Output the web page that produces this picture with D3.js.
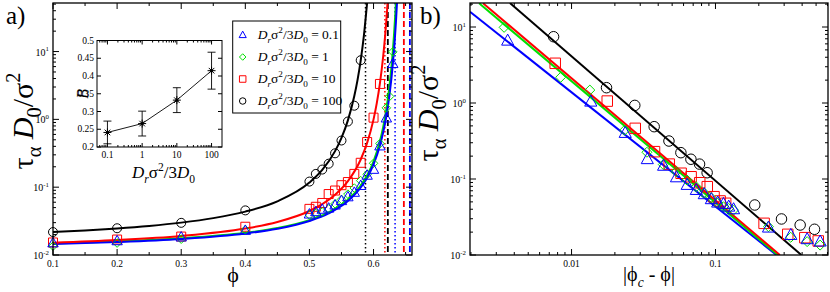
<!DOCTYPE html>
<html><head><meta charset="utf-8">
<script src="https://cdn.jsdelivr.net/npm/d3@7"></script>
<style>
body{margin:0;background:#fff;}
text, tspan{font-family:"Liberation Serif","DejaVu Serif","Times New Roman",serif;}
text{fill:#000;}
</style></head><body>
<svg id="c" width="830" height="292" font-family="Liberation Serif, DejaVu Serif, serif"></svg>
<script>
// ---------------- DATA ----------------
const seriesLabels = ["0.1", "1", "10", "100"];           // D_r sigma^2 / 3D_0
// measured relaxation times (panel a points)
const phiBlue  = [0.1,0.2,0.3,0.4,0.50,0.51,0.52,0.53,0.54,0.55,0.56,0.57,0.58,0.59,0.60,0.61,0.62,0.63];
const tauBlue  = [0.0150,0.0161,0.0183,0.0229,0.0399,0.0432,0.0469,0.0488,0.0541,0.0629,0.0716,0.0834,0.105,0.149,0.182,0.403,1.04,6.6];
const phiGreen = [0.1,0.2,0.3,0.4,0.50,0.51,0.52,0.53,0.54,0.55,0.56,0.57,0.58,0.59,0.60,0.61,0.62,0.625,0.63];
const tauGreen = [0.0135,0.0150,0.0171,0.0236,0.0390,0.0410,0.0432,0.0479,0.0568,0.066,0.079,0.097,0.125,0.155,0.225,0.44,1.48,2.18,9.9];
const phiRed   = [0.1,0.2,0.3,0.4,0.50,0.51,0.52,0.53,0.54,0.55,0.56,0.57,0.58,0.59,0.60,0.61];
const tauRed   = [0.0153,0.0169,0.0187,0.0261,0.0479,0.0514,0.0585,0.0792,0.0893,0.107,0.119,0.157,0.229,0.464,1.06,3.33];
const phiBlack = [0.1,0.2,0.3,0.4,0.50,0.51,0.52,0.53,0.54,0.55,0.56,0.57,0.58];
const tauBlack = [0.0218,0.0248,0.0298,0.0455,0.121,0.157,0.182,0.222,0.316,0.488,0.93,1.59,7.45];
// critical packing fractions (dotted lines, power-law fits) and divergence points (dashed lines)
const phiC    = [0.6336, 0.6334, 0.6177, 0.5875];   // blue, green, red, black
const phiDash = [0.6567, 0.6550, 0.6473, 0.6223];
// fitted curves of panel a
const fitPhiBlue  = [0.1,0.2,0.3,0.4,0.45,0.5,0.53,0.56,0.58,0.59,0.6,0.61,0.615,0.62,0.625,0.63,0.633,0.635,0.637];
const fitTauBlue  = [0.0145,0.01551,0.01722,0.02075,0.02438,0.03173,0.04106,0.06238,0.09886,0.138,0.2168,0.4131,0.6404,1.119,2.331,6.391,14.35,27.87,61.98];
const fitPhiGreen = [0.1,0.2,0.3,0.4,0.45,0.5,0.53,0.56,0.58,0.59,0.6,0.61,0.615,0.62,0.625,0.63,0.632,0.634,0.635];
const fitTauGreen = [0.0148,0.01583,0.01759,0.02123,0.02499,0.03267,0.04252,0.06539,0.1055,0.1496,0.2408,0.4791,0.769,1.413,3.178,9.897,17.88,36.2,54.3];
const fitPhiRed   = [0.1,0.2,0.3,0.4,0.45,0.5,0.52,0.54,0.56,0.58,0.59,0.6,0.605,0.61,0.615,0.618,0.62,0.622];
const fitTauRed   = [0.01518,0.01659,0.01907,0.02455,0.03066,0.04451,0.0561,0.0771,0.1225,0.2562,0.4495,1.0006,1.721,3.42,8.42,16.7,28.8,53.9];
const fitPhiBlack = [0.1,0.15,0.2,0.25,0.3,0.35,0.4,0.45,0.5,0.52,0.54,0.55,0.56,0.57,0.575,0.58,0.585,0.59];
const fitTauBlack = [0.02183,0.02305,0.02465,0.02685,0.03002,0.03498,0.04365,0.06195,0.1171,0.1797,0.340,0.5335,0.9676,2.205,3.79,7.41,17.34,52.7];
// power-law lines of panel b (end points)
const plX   = [[0.00197,0.2655],[0.00228,0.271],[0.00243,0.280],[0.00373,0.395]];
const plTau = [[15.9,0.01],[20.5,0.01],[20.5,0.01],[20.7,0.01]];
// inset: exponent B vs rotational diffusion
const insetX   = [0.1, 1, 10, 100];
const insetB   = [0.241, 0.266, 0.332, 0.415];
const insetErr = [0.032, 0.035, 0.035, 0.052];
// ticks
const ticksAx = [0.1,0.2,0.3,0.4,0.5,0.6];
const ticksAxLabels = ["0.1","0.2","0.3","0.4","0.5","0.6"];
const ticksLogY = [0.01,0.1,1,10];
const ticksLogYExp = ["-2","-1","0","1"];
const ticksBx = [0.01,0.1];
const ticksBxLabels = ["0.01","0.1"];
const ticksInsetX = [0.1,1,10,100];
const ticksInsetXLabels = ["0.1","1","10","100"];
const ticksInsetY = [0.2,0.25,0.3,0.35,0.4,0.45,0.5];
const ticksInsetYLabels = ["0.2","0.25","0.3","0.35","0.4","0.45","0.5"];

// ---------------- STYLE / LAYOUT ----------------
const FONT = "Liberation Serif, DejaVu Serif, serif";
const colors = ["#0000ff","#00e000","#ff0000","#000000"];
const shapes = ["tri","dia","sq","circ"];
const svg = d3.select("#c");
const A = {l:53, r:412, t:3, b:255};
const B = {l:470, r:828, t:3, b:255};
const I = {l:97, r:222, t:40.5, b:147};

const xA = d3.scaleLinear().domain([0.1,0.66]).range([A.l,A.r]);
const yA = d3.scaleLog().domain([0.01,52]).range([A.b,A.t]);
const xB = d3.scaleLog().domain([0.00197,0.605]).range([B.l,B.r]);
const yB = d3.scaleLog().domain([0.01,20.7]).range([B.b,B.t]);
const xI = d3.scaleLog().domain([0.05,200]).range([I.l,I.r]);
const yI = d3.scaleLinear().domain([0.2,0.5]).range([I.b,I.t]);

function logMinor(lo, hi){ const out=[]; for(let e=-4;e<4;e++){for(let m=2;m<=9;m++){const v=m*Math.pow(10,e); if(v>lo*1.0001 && v<hi*0.9999) out.push(v);}} return out; }
function linMinor(lo, hi, step){ const out=[]; for(let v=lo; v<=hi+1e-9; v+=step) out.push(+v.toFixed(4)); return out; }

function txt(){ return svg.append("text").attr("font-family",FONT); }
function rich(sel, parts, size){
  let cur=0;
  parts.forEach(p=>{
    const ts = sel.append("tspan").text(p.t);
    let target = 0, fs = size;
    if(p.sub){target = size*0.28; fs = size*0.68;}
    if(p.sup){target = -size*0.42; fs = size*0.68;}
    ts.attr("font-size", fs).attr("dy", target-cur);
    if(p.i) ts.attr("font-style","italic");
    cur = target;
  });
}

function frame(box, xs, ys, xMaj, xMin, yMaj, yMin, L, l, sw){
  const g = svg.append("g").attr("stroke","#000").attr("stroke-width",1);
  const tick = (vals, len, fn) => vals.forEach(v=>fn(v,len));
  const xt = (v,len)=>{ const x=xs(v);
    g.append("line").attr("x1",x).attr("x2",x).attr("y1",box.b).attr("y2",box.b-len);
    g.append("line").attr("x1",x).attr("x2",x).attr("y1",box.t).attr("y2",box.t+len); };
  const yt = (v,len)=>{ const y=ys(v);
    g.append("line").attr("y1",y).attr("y2",y).attr("x1",box.l).attr("x2",box.l+len);
    g.append("line").attr("y1",y).attr("y2",y).attr("x1",box.r).attr("x2",box.r-len); };
  tick(xMaj,L,xt); tick(xMin,l,xt); tick(yMaj,L,yt); tick(yMin,l,yt);
  svg.append("rect").attr("x",box.l).attr("y",box.t).attr("width",box.r-box.l).attr("height",box.b-box.t)
    .attr("fill","none").attr("stroke","#000").attr("stroke-width",sw);
}

function markerPath(shape, s){
  const h=s/2;
  if(shape==="tri") return `M0,${-0.6*s}L${0.55*s},${0.4*s}L${-0.55*s},${0.4*s}Z`;
  if(shape==="dia") return `M0,${-0.5*s}L${0.5*s},0L0,${0.5*s}L${-0.5*s},0Z`;
  if(shape==="sq") return `M${-h},${-h}H${h}V${h}H${-h}Z`;
  return `M${h},0A${h},${h} 0 1,1 ${-h},0A${h},${h} 0 1,1 ${h},0Z`;
}
const msize = [10.5, 9.5, 10, 10];

// ---------------- PANEL A ----------------
svg.append("clipPath").attr("id","clipA").append("rect").attr("x",A.l).attr("y",A.t).attr("width",A.r-A.l).attr("height",A.b-A.t);
svg.append("clipPath").attr("id","clipB").append("rect").attr("x",B.l).attr("y",B.t).attr("width",B.r-B.l).attr("height",B.b-B.t);

const gA = svg.append("g").attr("clip-path","url(#clipA)");
[3,2,0].forEach(k=>{
  gA.append("line").attr("x1",xA(phiC[k])).attr("x2",xA(phiC[k])).attr("y1",A.t).attr("y2",A.b)
    .attr("stroke",colors[k]).attr("stroke-width",1.5).attr("stroke-dasharray","1.5,2.5");
  gA.append("line").attr("x1",xA(phiDash[k])).attr("x2",xA(phiDash[k])).attr("y1",A.t).attr("y2",A.b)
    .attr("stroke",colors[k]).attr("stroke-width",1.8).attr("stroke-dasharray","6,3");
});
const fits = [[fitPhiBlue,fitTauBlue],[fitPhiGreen,fitTauGreen],[fitPhiRed,fitTauRed],[fitPhiBlack,fitTauBlack]];
const lineA = d3.line().x(d=>xA(d[0])).y(d=>yA(d[1])).curve(d3.curveMonotoneX);
[1,0,2,3].forEach(k=>{
  const pts = fits[k][0].map((p,i)=>[p,fits[k][1][i]]);
  gA.append("path").attr("d",lineA(pts)).attr("fill","none").attr("stroke",colors[k]).attr("stroke-width",2);
});
const dataPhi = [phiBlue,phiGreen,phiRed,phiBlack];
const dataTau = [tauBlue,tauGreen,tauRed,tauBlack];
[3,2,1,0].forEach(k=>{
  dataPhi[k].forEach((p,i)=>{
    svg.append("path").attr("d",markerPath(shapes[k],msize[k]*0.9))
      .attr("transform",`translate(${xA(p)},${yA(dataTau[k][i])})`)
      .attr("fill","none").attr("stroke",colors[k]).attr("stroke-width",1);
  });
});
frame(A, xA, yA, ticksAx, linMinor(0.15,0.65,0.1), ticksLogY, logMinor(0.01,52), 6, 3, 1.3);

ticksAx.forEach((v,i)=>txt().attr("x",xA(v)).attr("y",A.b+12).attr("text-anchor","middle").attr("font-size",9.5).text(ticksAxLabels[i]));
ticksLogY.forEach((v,i)=>{
  const t = txt().attr("x",A.l-4).attr("y",yA(v)+4).attr("text-anchor","end");
  rich(t,[{t:"10"},{t:ticksLogYExp[i],sup:true}],10);
});

// legend
const lg = {x:232.7, y:21, w:108, h:92};
svg.append("rect").attr("x",lg.x).attr("y",lg.y).attr("width",lg.w).attr("height",lg.h).attr("fill","#fff").attr("stroke","#000").attr("stroke-width",1);
seriesLabels.forEach((s,k)=>{
  const yy = lg.y + 14 + k*22;
  svg.append("path").attr("d",markerPath(shapes[k],6.5)).attr("transform",`translate(${lg.x+10},${yy})`)
    .attr("fill","none").attr("stroke",colors[k]).attr("stroke-width",1);
  const t = txt().attr("x",lg.x+25).attr("y",yy+4);
  rich(t,[{t:"D",i:true},{t:"r",i:true,sub:true},{t:"σ"},{t:"2",sup:true},{t:"/3"},{t:"D",i:true},{t:"0",sub:true},{t:" = "+s}],13.5);
});

// inset
svg.append("rect").attr("x",I.l).attr("y",I.t).attr("width",I.r-I.l).attr("height",I.b-I.t).attr("fill","#fff");
const gI = svg.append("g");
gI.append("path").attr("d",d3.line().x(d=>xI(d[0])).y(d=>yI(d[1]))(insetX.map((x,i)=>[x,insetB[i]])))
  .attr("fill","none").attr("stroke","#000").attr("stroke-width",0.9);
insetX.forEach((x,i)=>{
  const cx=xI(x), yt=yI(insetB[i]+insetErr[i]), yb=yI(insetB[i]-insetErr[i]);
  gI.append("line").attr("x1",cx).attr("x2",cx).attr("y1",yt).attr("y2",yb).attr("stroke","#000").attr("stroke-width",0.9);
  gI.append("line").attr("x1",cx-4).attr("x2",cx+4).attr("y1",yt).attr("y2",yt).attr("stroke","#000").attr("stroke-width",0.9);
  gI.append("line").attr("x1",cx-4).attr("x2",cx+4).attr("y1",yb).attr("y2",yb).attr("stroke","#000").attr("stroke-width",0.9);
  const cy=yI(insetB[i]), r=4;
  gI.append("path").attr("d",`M${cx-r},${cy}H${cx+r}M${cx},${cy-r}V${cy+r}M${cx-r*0.7},${cy-r*0.7}L${cx+r*0.7},${cy+r*0.7}M${cx-r*0.7},${cy+r*0.7}L${cx+r*0.7},${cy-r*0.7}`)
    .attr("stroke","#000").attr("stroke-width",1);
  gI.append("circle").attr("cx",cx).attr("cy",cy).attr("r",1.6).attr("fill","#000");
});
frame(I, xI, yI, ticksInsetX, logMinor(0.05,200), ticksInsetY, [], 4, 2, 1);
ticksInsetX.forEach((v,i)=>txt().attr("x",xI(v)).attr("y",I.b+11).attr("text-anchor","middle").attr("font-size",9.5).text(ticksInsetXLabels[i]));
ticksInsetY.forEach((v,i)=>txt().attr("x",I.l-3).attr("y",yI(v)+3).attr("text-anchor","end").attr("font-size",9.5).text(ticksInsetYLabels[i]));
txt().attr("transform",`translate(88,${(I.t+I.b)/2}) rotate(-90)`).attr("text-anchor","middle").attr("font-size",16).attr("font-style","italic").text("B");
{
  const t = txt().attr("x",(I.l+I.r)/2+4).attr("y",178).attr("text-anchor","middle");
  rich(t,[{t:"D",i:true},{t:"r",i:true,sub:true},{t:"σ"},{t:"2",sup:true},{t:"/3"},{t:"D",i:true},{t:"0",sub:true}],17);
}

// axis labels A
txt().attr("x",233).attr("y",282).attr("text-anchor","middle").attr("font-size",22).text("ϕ");
{
  const t = txt().attr("transform","translate(33,121) rotate(-90)").attr("text-anchor","middle");
  rich(t,[{t:"τ"},{t:"α",sub:true},{t:" D",i:true},{t:"0",sub:true},{t:"/σ"},{t:"2",sup:true}],30);
}
txt().attr("x",6).attr("y",24).attr("font-size",25).text("a)");

// ---------------- PANEL B ----------------
const gB = svg.append("g").attr("clip-path","url(#clipB)");
[0,1,2,3].forEach(k=>{
  gB.append("path").attr("d",d3.line().x(d=>xB(d[0])).y(d=>yB(d[1]))(plX[k].map((x,i)=>[x,plTau[k][i]])))
    .attr("fill","none").attr("stroke",colors[k]).attr("stroke-width",2);
});
[3,2,1,0].forEach(k=>{
  dataPhi[k].forEach((p,i)=>{
    svg.append("path").attr("d",markerPath(shapes[k],msize[k]*1.05))
      .attr("transform",`translate(${xB(Math.abs(phiC[k]-p))},${yB(dataTau[k][i])})`)
      .attr("fill","none").attr("stroke",colors[k]).attr("stroke-width",1);
  });
});
frame(B, xB, yB, ticksBx, logMinor(0.00197,0.605), ticksLogY, logMinor(0.01,20.7), 6, 3, 1.3);
ticksBx.forEach((v,i)=>txt().attr("x",xB(v)).attr("y",B.b+12).attr("text-anchor","middle").attr("font-size",9.5).text(ticksBxLabels[i]));
ticksLogY.forEach((v,i)=>{
  const t = txt().attr("x",B.l-4).attr("y",yB(v)+4).attr("text-anchor","end");
  rich(t,[{t:"10"},{t:ticksLogYExp[i],sup:true}],10);
});
{
  const t = txt().attr("x",649).attr("y",281).attr("text-anchor","middle");
  rich(t,[{t:"|ϕ"},{t:"c",i:true,sub:true},{t:" - ϕ|"}],20);
}
{
  const t = txt().attr("transform","translate(438,113) rotate(-90)").attr("text-anchor","middle");
  rich(t,[{t:"τ"},{t:"α",sub:true},{t:" D",i:true},{t:"0",sub:true},{t:"/σ"},{t:"2",sup:true}],30);
}
txt().attr("x",420).attr("y",24).attr("font-size",25).text("b)");
</script>
</body></html>
